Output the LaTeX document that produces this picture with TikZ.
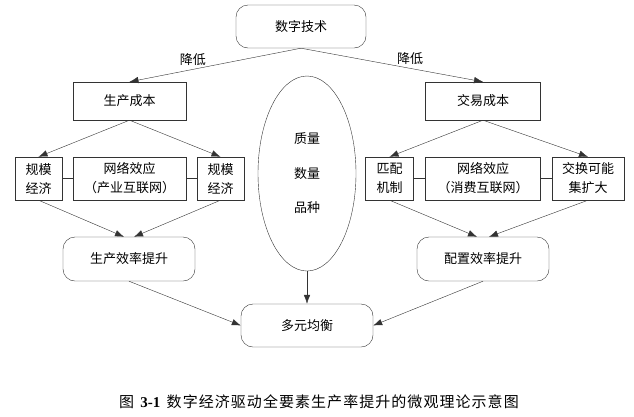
\documentclass[tikz,border=0pt]{standalone}
\usepackage{fontspec}
\setmainfont{Liberation Serif}
\newfontfamily\cjk{Noto Sans CJK SC}
\newfontfamily\capcjk[LetterSpace=7]{Noto Sans CJK SC}
\usetikzlibrary{calc}
\usetikzlibrary{arrows.meta}
\usetikzlibrary{shapes.geometric}
\tikzset{
	box/.style={draw=black!80, thin, inner sep=0pt, align=center, font=\cjk\fontsize{13}{19}\selectfont},
	rbox/.style={box, rounded corners=12pt},
	link/.style={draw=black!80, thin, -{Latex[length=9pt,width=6.5pt]}},
	label/.style={font=\cjk\fontsize{13}{15}\selectfont, inner sep=1pt},
}

\begin{document}
\begin{tikzpicture}[x=1pt,y=-1pt]
	\useasboundingbox (0,0) rectangle (634,416);
	% top level
	\node[rbox, minimum width=130pt, minimum height=43pt] at (301,26.5) (tech) {数字技术};
	\node[box, minimum width=113pt, minimum height=38pt] at (129.5,101) (pcost) {生产成本};
	\node[box, minimum width=115pt, minimum height=38pt] at (483,101) (tcost) {交易成本};
	% left row
	\node[box, minimum width=47pt, minimum height=43pt] at (38.5,178.5) (scale1) {规模\\经济};
	\node[box, minimum width=113pt, minimum height=43pt] at (129.5,178.5) (net1) {网络效应\\（产业互联网）};
	\node[box, minimum width=47pt, minimum height=43pt] at (220.5,178.5) (scale2) {规模\\经济};
	% right row
	\node[box, minimum width=48pt, minimum height=43pt] at (389.5,178.5) (match) {匹配\\机制};
	\node[box, minimum width=115pt, minimum height=43pt] at (483,178.5) (net2) {网络效应\\（消费互联网）};
	\node[box, minimum width=72pt, minimum height=43pt] at (588,178.5) (exch) {交换可能\\集扩大};
	% middle
	\node[box, ellipse, minimum width=98pt, minimum height=195pt, font=\cjk\fontsize{13}{34.5}\selectfont] at (307,173.5) (qual) {质量\\数量\\品种};
	\node[rbox, minimum width=132pt, minimum height=44pt] at (129,259) (peff) {生产效率提升};
	\node[rbox, minimum width=132pt, minimum height=44pt] at (483,259) (aeff) {配置效率提升};
	\node[rbox, minimum width=132pt, minimum height=43pt] at (307,325.5) (bal) {多元均衡};

	\draw[link] (tech.south) -- node[label, pos=0.63, above=3pt] (cut1) {降低} (pcost.north);
	\draw[link] (tech.south) -- node[label, pos=0.6, above=3pt] (cut2) {降低} (tcost.north);
	\draw[link] (pcost.south) -- (scale1.north);
	\draw[link] (pcost.south) -- (scale2.north);
	\draw[link] (tcost.south) -- (match.north);
	\draw[link] (tcost.south) -- (exch.north);
	\draw[draw=black!80, thin] (scale1.east) -- (net1.west) (net1.east) -- (scale2.west);
	\draw[draw=black!80, thin] (match.east) -- (net2.west) (net2.east) -- (exch.west);
	\draw[link] (scale1.south) -- ([xshift=-5pt]peff.north);
	\draw[link] (scale2.south) -- ([xshift=5pt]peff.north);
	\draw[link] (match.south) -- ([xshift=-6pt]aeff.north);
	\draw[link] (exch.south) -- ([xshift=6pt]aeff.north);
	\draw[link] (peff.south) -- (bal.west);
	\draw[link] (aeff.south) -- (bal.east);
	\draw[link] (qual.south) -- (bal.north);

	\node[font=\fontsize{15}{17}\selectfont] at (319,402) (cap) {{\capcjk 图}\,~\textbf{3-1}~\,{\capcjk 数字经济驱动全要素生产率提升的微观理论示意图}};
\end{tikzpicture}
\end{document}
